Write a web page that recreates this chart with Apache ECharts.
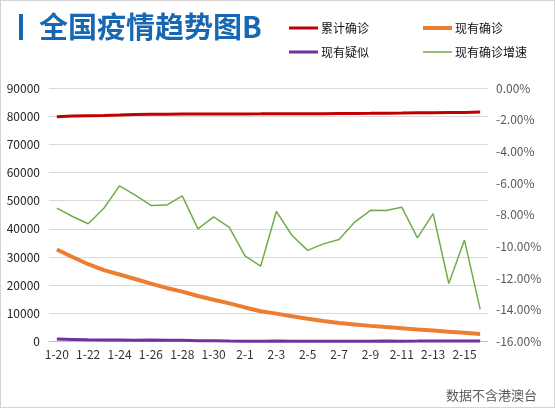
<!DOCTYPE html>
<html>
<head>
<meta charset="utf-8">
<script src="https://cdn.jsdelivr.net/npm/echarts@6/dist/echarts.min.js"></script>
<style>
  html, body { margin: 0; padding: 0; background: #fff; }
  #chart { width: 555px; height: 408px; box-sizing: border-box; border: 1px solid #d4d4d4; }
</style>
</head>
<body>
<div id="chart"></div>
<script>
const categories = ['1-20','1-21','1-22','1-23','1-24','1-25','1-26','1-27','1-28','1-29','1-30','1-31',
  '2-1','2-2','2-3','2-4','2-5','2-6','2-7','2-8','2-9','2-10','2-11','2-12','2-13','2-14','2-15','2-16'];
const cumulativeConfirmed = [79824, 80026, 80151, 80270, 80409, 80552, 80651, 80695, 80735, 80754, 80778, 80793,
  80813, 80824, 80844, 80860, 80881, 80894, 80928, 80967, 81008, 81054, 81093, 81171, 81218, 81285, 81340, 81439];
const existingConfirmed = [32652, 30004, 27433, 25352, 23784, 22177, 20533, 19016, 17721, 16145, 14831, 13526,
  12094, 10734, 9898, 8976, 8056, 7263, 6569, 6013, 5549, 5120, 4735, 4287, 3947, 3460, 3128, 2691];
const existingSuspected = [851, 715, 587, 520, 522, 482, 502, 458, 421, 285, 253, 147,
  115, 113, 134, 128, 119, 105, 104, 106, 118, 136, 132, 134, 159, 189, 184, 174];
const growthRate = [-7.58, -8.11, -8.57, -7.59, -6.18, -6.76, -7.41, -7.39, -6.81, -8.89, -8.14, -8.80,
  -10.59, -11.25, -7.79, -9.31, -10.25, -9.84, -9.56, -8.46, -7.72, -7.73, -7.52, -9.46, -7.93, -12.34, -9.60, -13.97];
const seriesNames = ['累计确诊', '现有确诊', '现有疑似', '现有确诊增速'];
const titleText = '全国疫情趋势图B';
const footerText = '数据不含港澳台';

const FONT = '"Noto Sans CJK SC", "Noto Sans", sans-serif';
const BLUE = '#1767b3';
const colors = ['#c00000', '#ed7d31', '#7030a0', '#70ad47'];
const widths = [3, 4, 3, 1.5];

const chart = echarts.init(document.getElementById('chart'));

function legendFor(i, left, top) {
  return {
    data: [seriesNames[i]],
    left: left, top: top,
    icon: 'rect',
    itemWidth: 29,
    itemHeight: widths[i],
    itemGap: 0,
    selectedMode: false,
    textStyle: { fontSize: 12, color: '#111', fontFamily: FONT, padding: [0, 0, 0, -2] }
  };
}

chart.setOption({
  animation: false,
  textStyle: { fontFamily: FONT },
  title: {
    text: titleText,
    left: 33, top: 6,
    textStyle: { fontSize: 29, fontWeight: 'bold', color: BLUE, fontFamily: FONT }
  },
  graphic: [
    { type: 'rect', shape: { x: 18, y: 13, width: 4, height: 26 }, style: { fill: BLUE } },
    { type: 'text', right: 17, top: 388,
      style: { text: footerText, fontSize: 13, fill: '#595959', fontFamily: FONT } }
  ],
  legend: [
    legendFor(0, 283, 16),
    legendFor(1, 417, 16),
    legendFor(2, 283, 40),
    legendFor(3, 417, 40)
  ],
  grid: { left: 48, right: 66, top: 87, bottom: 65.5, containLabel: false },
  xAxis: {
    type: 'category',
    data: categories,
    boundaryGap: true,
    axisLine: { lineStyle: { color: '#bfbfbf', width: 1 } },
    axisTick: { interval: 1, length: 5, lineStyle: { color: '#bfbfbf' } },
    axisLabel: { interval: 1, fontSize: 12, color: '#333', margin: 7, fontFamily: FONT }
  },
  yAxis: [
    {
      type: 'value', min: 0, max: 90000, interval: 10000,
      axisLine: { show: false }, axisTick: { show: false },
      splitLine: { lineStyle: { color: '#d9d9d9', width: 1 } },
      axisLabel: { fontSize: 12, color: '#222', margin: 9, fontFamily: FONT,
        formatter: v => String(v) }
    },
    {
      type: 'value', min: -16, max: 0, interval: 2,
      axisLine: { show: false }, axisTick: { show: false },
      splitLine: { show: false },
      axisLabel: { fontSize: 12, color: '#595959', margin: 8, fontFamily: FONT,
        formatter: v => v.toFixed(2) + '%' }
    }
  ],
  series: [
    { name: seriesNames[0], type: 'line', yAxisIndex: 0, data: cumulativeConfirmed, symbol: 'none',
      color: colors[0], lineStyle: { color: colors[0], width: widths[0] } },
    { name: seriesNames[1], type: 'line', yAxisIndex: 0, data: existingConfirmed, symbol: 'none',
      color: colors[1], lineStyle: { color: colors[1], width: widths[1] } },
    { name: seriesNames[2], type: 'line', yAxisIndex: 0, data: existingSuspected, symbol: 'none',
      color: colors[2], lineStyle: { color: colors[2], width: widths[2] } },
    { name: seriesNames[3], type: 'line', yAxisIndex: 1, data: growthRate, symbol: 'none',
      color: colors[3], lineStyle: { color: colors[3], width: widths[3] } }
  ]
});
</script>
</body>
</html>
